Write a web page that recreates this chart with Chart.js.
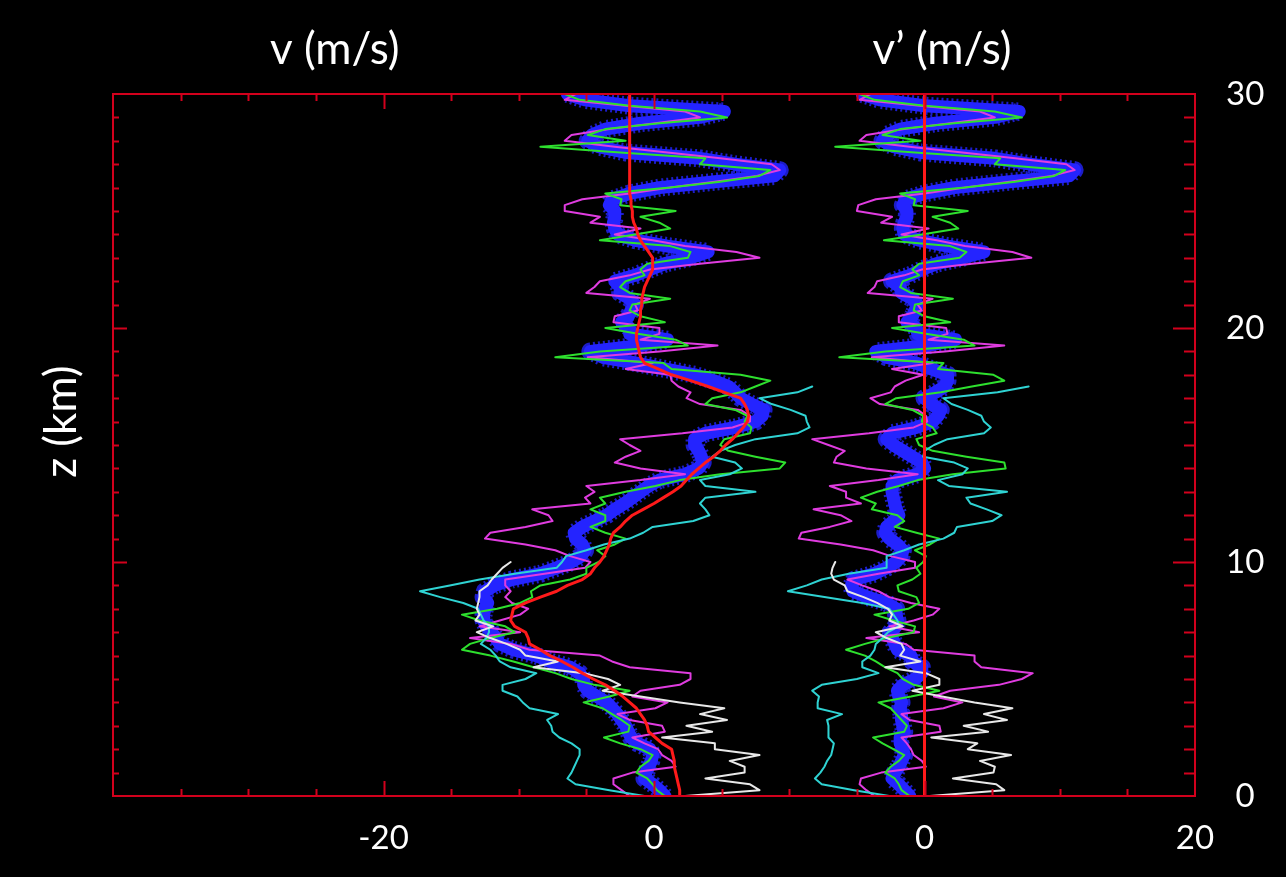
<!DOCTYPE html>
<html>
<head>
<meta charset="utf-8">
<title>v and v' profiles</title>
<script src="https://cdn.jsdelivr.net/npm/chart.js@4.4.1/dist/chart.umd.min.js"></script>
<style>
  html, body { margin: 0; padding: 0; background: #000; }
  #wrap { width: 1286px; height: 877px; position: relative; }
</style>
</head>
<body>
<div id="wrap"><canvas id="profiles"></canvas></div>
<script>
// sounding levels, 250 m spacing from the ground to 30 km
const heightKm = Array.from({ length: 121 }, (_, i) => i * 0.25);

// mean meridional wind (red)
const vMean = [
  1.9, 1.9, 1.8, 1.7, 1.6, 1.5, 1.5, 1.4, 1.3,
  0.6, 0.1, -0.4, -0.5, -0.7, -1.0, -1.3, -1.8,
  -2.3, -2.9, -3.6, -4.5, -5.3, -6.0, -6.8, -7.7,
  -8.4, -9.2, -9.3, -9.5, -10.3, -10.6, -10.5, -10.4,
  -9.5, -8.4, -7.2, -6.4, -5.3, -4.7, -4.4, -4.0,
  -3.7, -3.5, -3.3, -3.2, -3.0, -2.5, -2.1, -1.6,
  -0.8, 0.0, 0.7, 1.4, 2.0, 2.4, 2.8, 3.3,
  3.8, 4.4, 4.9, 5.3, 5.8, 6.2, 6.6, 6.9,
  7.0, 6.9, 6.7, 6.4, 5.2, 4.0, 2.7, 1.3,
  0.3, -0.7, -1.0, -1.1, -1.2, -1.3, -1.3, -1.2,
  -1.1, -1.0, -1.0, -0.9, -0.9, -0.8, -0.7, -0.5,
  -0.3, -0.1, -0.1, -0.1, -0.4, -0.7, -1.0, -1.2,
  -1.3, -1.5, -1.6, -1.6, -1.7, -1.7, -1.8, -1.8,
  -1.8, -1.8, -1.8, -1.8, -1.8, -1.8, -1.8, -1.8,
  -1.8, -1.8, -1.8, -1.8, -1.8, -1.8, -1.8, -1.8
];

// ensemble profile (thick blue)
const vBlue = [
  0.8, 0.4, -0.1, -0.7, -0.6, -0.4, -0.2, -0.1, -0.3,
  -1.2, -1.7, -1.9, -2.1, -2.4, -2.7, -3.1, -3.5,
  -4.2, -4.9, -5.2, -5.2, -5.5, -6.2, -7.7, -8.7,
  -10.4, -11.4, -11.7, -12.0, -12.4, -12.6, -12.6, -12.5,
  -12.3, -12.6, -12.5, -11.8, -10.5, -8.4, -7.2, -6.1,
  -5.4, -5.1, -5.3, -5.8, -5.9, -5.3, -4.4, -3.5,
  -2.9, -2.2, -1.6, -1.0, -0.4, 0.4, 2.3, 3.3,
  3.6, 3.5, 3.3, 3.0, 3.0, 3.8, 6.0, 7.5,
  8.0, 8.1, 7.2, 6.4, 6.0, 5.5, 4.4, 3.0,
  0.8, -1.3, -3.8, -4.7, -1.0, 1.0, -1.8, -1.8,
  -2.4, -1.9, -1.7, -1.4, -1.8, -2.5, -2.5, -2.9,
  -1.4, -0.3, 0.8, 2.7, 4.0, 1.0, -1.4, -2.7,
  -2.9, -3.0, -2.9, -2.9, -3.3, -3.1, -1.8, 0.4,
  4.5, 8.9, 9.3, 6.0, 3.4, -2.1, -4.1, -4.9,
  -4.6, -3.6, -1.0, 3.4, 5.2, -1.8, -5.1, -6.4
];

// individual soundings
const vMagenta = [
  -1.8, -2.4, -3.0, -3.0, -1.6, 1.6, 1.3, 0.6, 0.3,
  -0.7, -1.6, 0.8, 0.6, -1.8, -2.7, 0.1, 1.0,
  -1.6, -1.0, 1.9, 2.7, 2.7, -1.8, -3.1, -4.0,
  -9.2, -10.6, -13.6, -9.9, -12.9, -11.4, -9.9, -9.3,
  -10.5, -11.0, -10.6, -11.0, -11.0, -8.1, -5.1, -4.7,
  -6.2, -7.3, -9.5, -12.5, -12.1, -9.5, -7.5, -7.8,
  -9.0, -4.7, -5.1, -4.4, -5.0, -1.0, 2.3, -1.0,
  -2.9, -2.1, -1.0, -1.8, -2.5, 2.1, 5.8, 7.1,
  7.1, 6.4, 3.4, 2.4, 2.7, 1.8, 1.3, 1.2,
  -2.1, -0.1, -4.9, 0.4, 4.7, -1.0, 0.4, 0.4,
  -3.0, -2.9, -1.2, -1.4, -0.3, -5.0, -4.4, -4.0,
  -1.8, -0.3, 3.4, 7.8, 6.1, 2.3, -0.1, -2.9,
  -1.0, -4.7, -4.0, -6.6, -6.6, -5.3, -1.8, 1.2,
  4.5, 7.6, 9.3, 8.7, 4.9, 1.0, -2.9, -6.6,
  -6.1, -3.3, 0.1, 3.4, 2.3, -2.1, -6.6, -5.8
];

const vGreen = [
  0.8, 0.2, -0.1, -0.5, -1.3, -1.0, -0.4, -0.1, -1.0,
  -2.5, -3.7, -1.9, -1.8, -2.4, -3.1, -3.8, -5.2,
  -3.3, -1.8, -4.4, -6.1, -7.3, -8.9, -10.4, -12.1,
  -14.2, -13.6, -12.1, -10.3, -11.0, -12.9, -14.2, -11.6,
  -9.9, -9.0, -9.1, -8.4, -6.2, -5.0, -5.0, -4.1,
  -3.6, -4.2, -2.9, -2.1, -3.6, -4.7, -3.6, -3.6,
  -4.7, -3.6, -4.0, -2.1, 0.1, 1.9, 4.9, 9.3,
  9.7, 7.5, 5.5, 4.9, 5.2, 7.1, 7.2, 6.7,
  6.9, 6.0, 3.8, 4.3, 6.4, 7.5, 8.6, 6.4,
  1.3, 0.7, -7.3, -4.0, 2.5, 1.6, -1.2, -3.6,
  0.8, -1.0, -1.8, -1.6, 1.2, -1.8, -2.5, -2.1,
  -0.7, -1.0, -0.5, 2.5, 2.7, 1.2, -4.0, -1.4,
  1.2, 0.4, -1.0, 1.6, -2.5, -2.4, -3.6, 1.2,
  4.9, 7.8, 8.6, 3.4, 3.8, -2.5, -8.4, -2.1,
  -4.9, -3.6, 0.4, 5.4, 3.4, -1.8, -5.5, -6.6
];

// cyan sounding stops at 17.5 km
const vCyan = [
  -0.7, -3.3, -5.8, -6.4, -6.1, -5.9, -5.7, -5.5, -5.5,
  -6.1, -7.0, -7.5, -7.6, -7.9, -7.1, -9.2, -9.7,
  -10.1, -11.2, -11.2, -9.5, -8.7, -10.6, -11.4, -11.7,
  -12.1, -12.8, -12.4, -12.2, -12.2, -12.6, -12.8, -13.0,
  -14.1, -15.8, -17.3, -15.1, -12.9, -10.3, -7.2, -6.8,
  -6.5, -5.0, -3.7, -1.8, -0.8, -0.1, 2.9, 4.1,
  3.8, 3.4, 3.8, 7.5, 3.8, 3.4, 5.6, 6.5,
  6.0, 4.3, 4.9, 6.0, 7.5, 10.6, 11.5, 11.3,
  11.2, 10.1, 8.7, 7.8, 10.6, 11.7
];

// white sounding stops at 10 km
const vWhite = [
  2.3, 7.8, 7.1, 3.8, 6.7, 6.7, 5.6, 7.8, 4.5,
  4.5, 0.6, 4.3, 2.4, 5.4, 3.4, 5.2, 1.9,
  -1.0, -3.8, -2.5, -3.4, -5.2, -8.9, -7.1, -9.5,
  -9.9, -10.9, -12.1, -13.1, -11.9, -13.2, -12.9, -13.1,
  -13.0, -12.9, -12.9, -12.3, -12.0, -11.6, -11.2, -10.6
];

const xTickValues = [-20, 0, 20, 40];
const xTickLabels = ['-20', '0', '0', '20'];
const zTickValues = [0, 10, 20, 30];

// the v' panel sits 20 m/s to the right of the v panel on the shared axis
const PANEL_OFFSET = 20;
const AXIS_RED = '#d2001c';
const FONT = 'Lato';

// the blue profile gets a dashed, darker underlay so its edge looks ragged
const series = [
  { values: vMean,    color: '#ff1a1a', width: 3,  order: 0 },
  { values: vWhite,   color: '#e8e8e8', width: 2,  order: 1 },
  { values: vCyan,    color: '#2fd3d3', width: 2,  order: 2 },
  { values: vGreen,   color: '#2ee02e', width: 2,  order: 3 },
  { values: vMagenta, color: '#e03ce0', width: 2,  order: 4 },
  { values: vBlue,    color: '#2424ff', width: 13, order: 5 },
  { values: vBlue,    color: '#1c1cc8', width: 18, order: 6, dash: [2, 3] }
];

function toPoints(values, shift, ref) {
  return values.map((v, i) => ({
    x: v - (ref ? ref[i] : 0) + shift,
    y: heightKm[i]
  }));
}

const datasets = [];
series.forEach(s => {
  const common = {
    borderColor: s.color,
    borderWidth: s.width,
    borderDash: s.dash || [],
    order: s.order,
    showLine: true,
    pointRadius: 0,
    tension: 0,
    borderJoinStyle: 'round',
    borderCapStyle: s.dash ? 'butt' : 'round'
  };
  datasets.push({ ...common, data: toPoints(s.values, 0, null) });
  datasets.push({ ...common, data: toPoints(s.values, PANEL_OFFSET, vMean) });
});

const frameAndTitles = {
  id: 'frameAndTitles',
  afterDatasetsDraw(chart) {
    const { ctx, chartArea: a, scales: { x, y } } = chart;
    ctx.save();
    ctx.strokeStyle = AXIS_RED;
    ctx.lineWidth = 2;
    ctx.strokeRect(a.left, a.top, a.right - a.left, a.bottom - a.top);

    ctx.beginPath();
    // ticks along the top and bottom every 5 m/s
    for (let v = -35; v <= 35; v += 5) {
      const px = Math.round(x.getPixelForValue(v)) + 0.5;
      const len = (v % 20 === 0) ? 15 : 7;
      ctx.moveTo(px, a.bottom); ctx.lineTo(px, a.bottom - len);
      ctx.moveTo(px, a.top); ctx.lineTo(px, a.top + len);
    }
    // ticks along the sides every km
    for (let z = 1; z < 30; z++) {
      const py = Math.round(y.getPixelForValue(z)) + 0.5;
      const major = z % 10 === 0;
      ctx.moveTo(a.left, py); ctx.lineTo(a.left + (major ? 14 : 6), py);
      ctx.moveTo(a.right, py); ctx.lineTo(a.right - (major ? 22 : 11), py);
    }
    ctx.stroke();

    ctx.fillStyle = '#ffffff';
    ctx.font = `44px ${FONT}`;
    ctx.textAlign = 'center';
    ctx.textBaseline = 'middle';
    ctx.fillText('v (m/s)', x.getPixelForValue(-23.6), 50);
    ctx.fillText('v\u2019 (m/s)', x.getPixelForValue(21.3), 50);
    ctx.translate(62, y.getPixelForValue(16));
    ctx.rotate(-Math.PI / 2);
    ctx.fillText('z (km)', 0, 0);
    ctx.restore();
  }
};

new Chart(document.getElementById('profiles'), {
  type: 'scatter',
  data: { datasets },
  options: {
    responsive: true,
    maintainAspectRatio: false,
    animation: false,
    devicePixelRatio: 1,
    layout: { padding: { top: 94, left: 113, right: 0, bottom: 0 } },
    plugins: { legend: { display: false }, tooltip: { enabled: false } },
    scales: {
      x: {
        type: 'linear',
        position: 'bottom',
        min: -40,
        max: 40,
        grid: { display: false, drawTicks: false },
        border: { display: false },
        afterBuildTicks: s => { s.ticks = xTickValues.map(value => ({ value })); },
        afterFit: s => { s.height = 81; },
        ticks: {
          color: '#ffffff',
          font: { family: FONT, size: 33 },
          padding: 23,
          maxRotation: 0,
          autoSkip: false,
          callback: v => xTickLabels[xTickValues.indexOf(v)]
        }
      },
      y: {
        type: 'linear',
        position: 'right',
        min: 0,
        max: 30,
        grid: { display: true, drawOnChartArea: false, color: 'rgba(0,0,0,0)', drawTicks: true, tickLength: 31 },
        border: { display: false },
        afterBuildTicks: s => { s.ticks = zTickValues.map(value => ({ value })); },
        afterFit: s => { s.width = 91; },
        ticks: {
          color: '#ffffff',
          font: { family: FONT, size: 33 },
          crossAlign: 'center',
          padding: 0,
          autoSkip: false
        }
      }
    }
  },
  plugins: [frameAndTitles]
});
</script>
</body>
</html>
